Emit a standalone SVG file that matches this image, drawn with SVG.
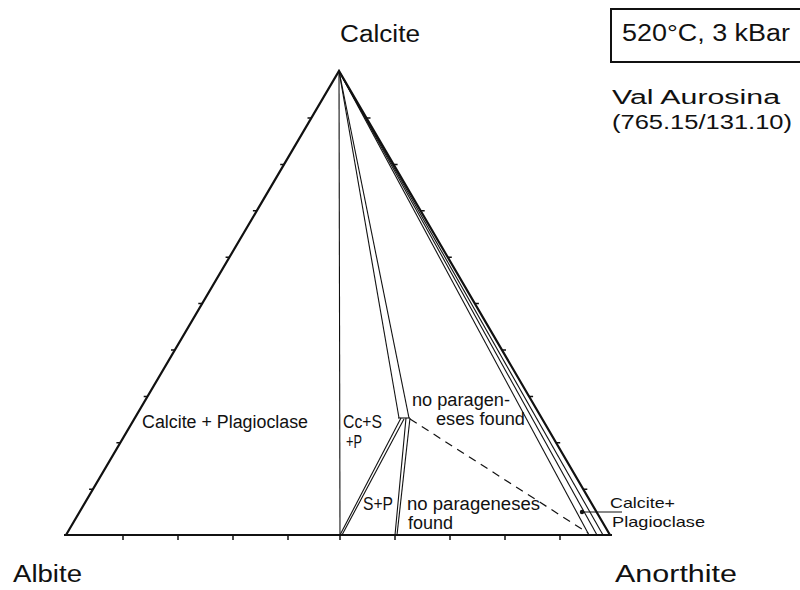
<svg xmlns="http://www.w3.org/2000/svg" width="800" height="590" viewBox="0 0 800 590">
<style>
text{font-family:"Liberation Sans","DejaVu Sans",sans-serif;fill:#111}
.big{font-size:23px}
.info{font-size:20px}
.mid{font-size:18px}
.sm{font-size:15px}
.thick{stroke:#111;stroke-width:2.2;fill:none}
.thin{stroke:#111;stroke-width:1.1;fill:none}
.tick{stroke:#111;stroke-width:1.5}
.dash{stroke:#111;stroke-width:1.2;stroke-dasharray:8 6;fill:none}
</style>
<rect width="800" height="590" fill="#fff"/>
<g id="triangle">
<polyline class="thick" points="66,535 339,71 610,535"/>
<line class="thick" x1="64" y1="535" x2="612" y2="535"/>
</g>
<g id="ticks">
<path class="tick" d="M123,535v5M178,535v5M233,535v5M288,535v5M340,535v5M395,535v5M450,535v5M505,535v5M560,535v5"/>
<path class="tick" d="M311.5,118h-4M284.2,164.4h-4M256.9,210.8h-4M229.6,257.2h-4M202.3,303.6h-4M175,350h-4M147.7,396.4h-4M120.4,442.8h-4M93.1,489.2h-4"/>
<path class="tick" d="M366.5,118h4M393.6,164.4h4M420.7,210.8h4M447.8,257.2h4M474.9,303.6h4M502,350h4M529.1,396.4h4M556.2,442.8h4M583.3,489.2h4"/>
</g>
<g id="connectors">
<line class="thin" x1="339" y1="71" x2="340" y2="535"/>
<line class="thin" x1="339" y1="71" x2="399" y2="418"/>
<line class="thin" x1="339" y1="71" x2="409" y2="418"/>
<line class="thin" x1="398" y1="418" x2="410" y2="418"/>
<line class="thin" x1="401" y1="418" x2="340" y2="535"/>
<line class="thin" x1="404" y1="419" x2="342" y2="535"/>
<line class="thin" x1="406" y1="418" x2="395" y2="535"/>
<line class="thin" x1="410" y1="418" x2="397" y2="535"/>
<line class="dash" x1="410" y1="419" x2="588" y2="533"/>
<line class="thin" x1="339" y1="71" x2="589" y2="535"/>
<line class="thin" x1="339" y1="71" x2="597" y2="535"/>
<line class="thin" x1="339" y1="71" x2="603" y2="535"/>
<line class="thin" x1="582" y1="512" x2="622" y2="512"/>
<circle cx="582" cy="512" r="2.2" fill="#111"/>
</g>
<g id="labels">
<text class="big" x="340" y="42" textLength="80" lengthAdjust="spacingAndGlyphs">Calcite</text>
<text class="big" x="13" y="582" textLength="69" lengthAdjust="spacingAndGlyphs">Albite</text>
<text class="big" x="615" y="582" textLength="122" lengthAdjust="spacingAndGlyphs">Anorthite</text>
<text class="mid" x="142" y="428" textLength="166" lengthAdjust="spacingAndGlyphs">Calcite + Plagioclase</text>
<text class="mid" x="343" y="428" textLength="39" lengthAdjust="spacingAndGlyphs">Cc+S</text>
<text class="mid" x="346" y="448" textLength="16" lengthAdjust="spacingAndGlyphs">+P</text>
<text class="mid" x="363" y="510" textLength="30" lengthAdjust="spacingAndGlyphs">S+P</text>
<text class="mid" x="412" y="406" textLength="98" lengthAdjust="spacingAndGlyphs">no paragen-</text>
<text class="mid" x="436" y="425" textLength="89" lengthAdjust="spacingAndGlyphs">eses found</text>
<text class="mid" x="407" y="510" textLength="133" lengthAdjust="spacingAndGlyphs">no parageneses</text>
<text class="mid" x="408" y="529" textLength="45" lengthAdjust="spacingAndGlyphs">found</text>
<text class="sm" x="610" y="508" textLength="65" lengthAdjust="spacingAndGlyphs">Calcite+</text>
<text class="sm" x="612" y="527" textLength="93" lengthAdjust="spacingAndGlyphs">Plagioclase</text>
</g>
<g id="info">
<rect x="611" y="9" width="200" height="53" fill="none" stroke="#111" stroke-width="2"/>
<text class="big" x="622" y="41" textLength="168" lengthAdjust="spacingAndGlyphs">520°C, 3 kBar</text>
<text class="info" x="612" y="104" textLength="168" lengthAdjust="spacingAndGlyphs">Val Aurosina</text>
<text class="info" x="612" y="129" textLength="180" lengthAdjust="spacingAndGlyphs">(765.15/131.10)</text>
</g>
</svg>
